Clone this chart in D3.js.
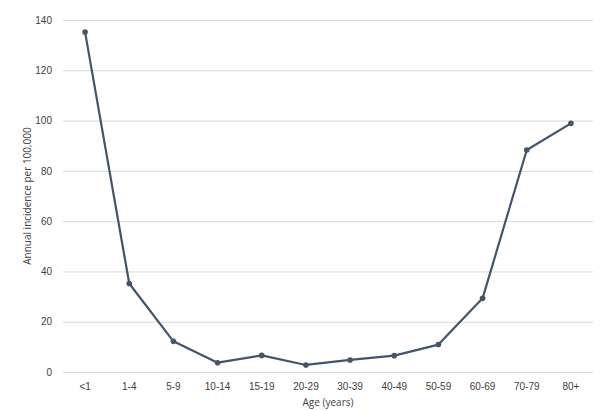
<!DOCTYPE html>
<html>
<head>
<meta charset="utf-8">
<script src="https://cdn.jsdelivr.net/npm/d3@7"></script>
<style>
  html, body { margin: 0; padding: 0; background: #fff; }
  svg { display: block; font-family: "Open Sans", "Liberation Sans", sans-serif; }
</style>
</head>
<body>
<svg id="chart" width="600" height="411"></svg>
<script>
const categories = ["<1", "1-4", "5-9", "10-14", "15-19", "20-29", "30-39", "40-49", "50-59", "60-69", "70-79", "80+"];
const incidence = [135.2, 35.2, 12.2, 3.7, 6.6, 2.8, 4.8, 6.5, 10.9, 29.3, 88.3, 98.9];
const yTicks = [0, 20, 40, 60, 80, 100, 120, 140];
const xTitle = "Age (years)";
const yTitle = "Annual incidence per 100,000";

const svg = d3.select("#chart");
const margin = { left: 63, right: 7, top: 20, bottom: 39 };
const W = 600, H = 411;

const x = d3.scaleBand().domain(categories).range([margin.left, W - margin.right]).padding(0);
const y = d3.scaleLinear().domain([0, 140]).range([H - margin.bottom, margin.top]);

const data = categories.map((c, i) => ({ c, v: incidence[i] }));

// gridlines
const yAxis = d3.axisLeft(y).tickValues(yTicks).tickSize(-(W - margin.left - margin.right)).tickPadding(11);
const gy = svg.append("g").attr("transform", `translate(${margin.left},0)`).call(yAxis);
gy.select(".domain").remove();
gy.selectAll(".tick line").attr("stroke", "#d9d9d9").attr("stroke-width", 1);
gy.selectAll(".tick text").attr("fill", "#404040").attr("font-size", 10);

const xAxis = d3.axisBottom(x).tickSize(0).tickPadding(11);
const gx = svg.append("g").attr("transform", `translate(0,${y(0)})`).call(xAxis);
gx.select(".domain").remove();
gx.selectAll(".tick text").attr("fill", "#404040").attr("font-size", 10);

// line
const line = d3.line().x(d => x(d.c) + x.bandwidth() / 2).y(d => y(d.v));
svg.append("path").datum(data)
  .attr("fill", "none")
  .attr("stroke", "#44546A")
  .attr("stroke-width", 2.2)
  .attr("stroke-linejoin", "round")
  .attr("d", line);

svg.append("g").selectAll("circle").data(data).join("circle")
  .attr("cx", d => x(d.c) + x.bandwidth() / 2)
  .attr("cy", d => y(d.v))
  .attr("r", 2.8)
  .attr("fill", "#44546A");

// titles
svg.append("text")
  .attr("x", (margin.left + W - margin.right) / 2)
  .attr("y", 406)
  .attr("text-anchor", "middle")
  .attr("font-size", 10)
  .attr("fill", "#404040")
  .text(xTitle);

svg.append("text")
  .attr("transform", `translate(31,${(margin.top + y(0)) / 2}) rotate(-90)`)
  .attr("text-anchor", "middle")
  .attr("font-size", 10)
  .attr("fill", "#404040")
  .text(yTitle);
</script>
</body>
</html>
